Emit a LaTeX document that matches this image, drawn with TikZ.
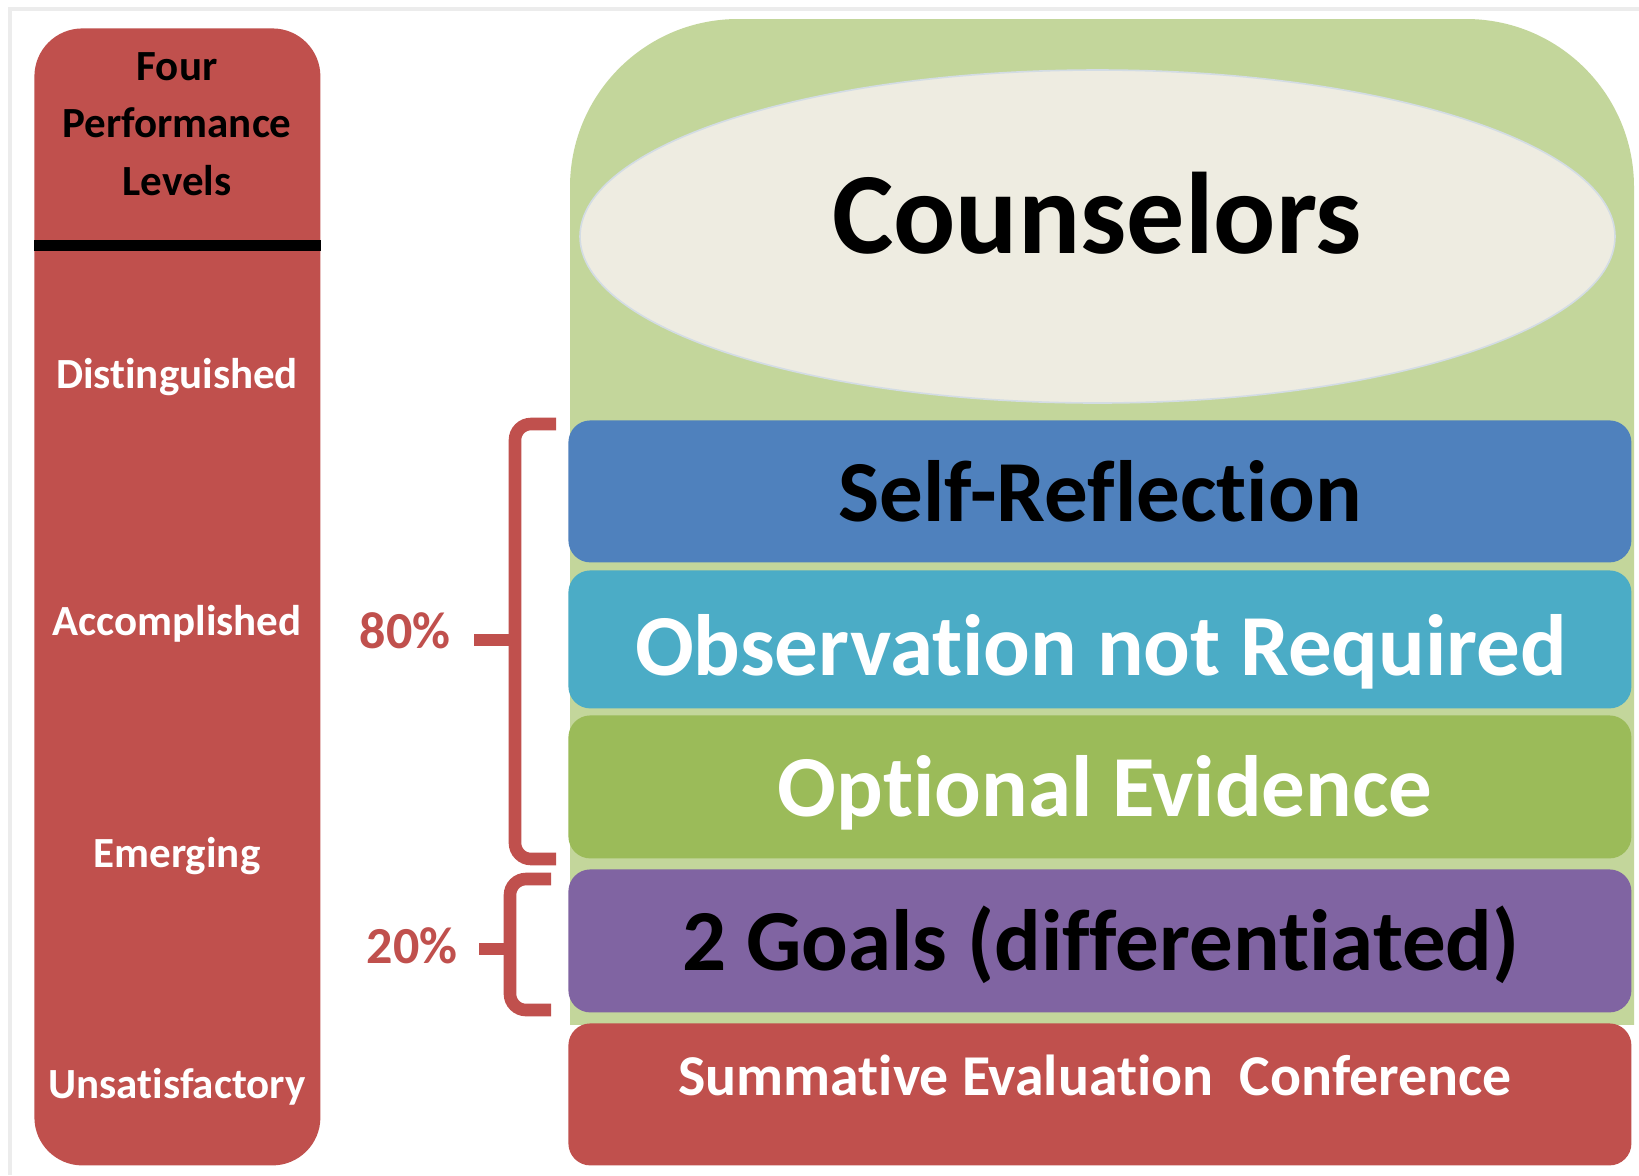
\documentclass[tikz,border=0pt]{standalone}
\usepackage{fontspec}
\setmainfont{Carlito}[Ligatures=NoCommon]
\usetikzlibrary{shapes.geometric}
\definecolor{cred}{HTML}{C0504D}
\definecolor{cgreenbg}{HTML}{C3D69B}
\definecolor{ccream}{HTML}{EEECE1}
\definecolor{cellline}{HTML}{D3DCE4}
\definecolor{cblue}{HTML}{4F81BD}
\definecolor{cteal}{HTML}{4BACC6}
\definecolor{cgreen}{HTML}{9BBB59}
\definecolor{cpurple}{HTML}{8064A2}
\definecolor{cframe}{HTML}{ECECEC}
\begin{document}
\begin{tikzpicture}[x=0.5pt,y=-0.5pt,
  bar/.style={rounded corners=11pt, minimum width=531.5pt, inner sep=0pt, anchor=north west},
  lvl/.style={anchor=base, text=white, font=\bfseries\fontsize{21.5}{25}\selectfont, inner sep=0pt},
  head/.style={anchor=base, text=black, font=\bfseries\fontsize{21.5}{25}\selectfont, inner sep=0pt},
  big/.style={anchor=base, font=\bfseries\fontsize{43.5}{50}\selectfont, inner sep=0pt},
  pct/.style={anchor=base, text=cred, font=\bfseries\fontsize{26}{30}\selectfont, inner sep=0pt},
  bracestyle/.style={draw=cred, line width=6.3pt, rounded corners=8pt}]
\useasboundingbox (0,0) rectangle (1639,1175);
\fill[white] (0,0) rectangle (1639,1175);
% frame
\draw[cframe, line width=2pt] (10,1175) -- (10,9) -- (1639,9);

% left column
\node[fill=cred, rounded corners=24pt, minimum width=143pt, minimum height=568.5pt, inner sep=0pt, anchor=north west] (lcol) at (34,28) {};
\draw[black, line width=5.5pt] (lcol.west |- 0,245) -- (lcol.east |- 0,245);
\node[head] (t1) at (177,80) {Four};
\node[head] (t2) at (177,137) {Performance};
\node[head] (t3) at (177,195) {Levels};
\node[lvl] (l1) at (177,388) {Distinguished};
\node[lvl] (l2) at (177,635) {Accomplished};
\node[lvl] (l3) at (177,867) {Emerging};
\node[lvl] (l4) at (177,1098) {Unsatisfactory};

% green container
\begin{scope}
\clip (0,0) rectangle (1639,1024);
\fill[cgreenbg, rounded corners=84pt] (570,19) rectangle (1634,1400);
\end{scope}

% ellipse
\node[ellipse, fill=ccream, draw=cellline, line width=0.8pt, minimum width=517.5pt, minimum height=166.5pt, inner sep=0pt] (ell) at (1097.5,236.5) {};
\node[anchor=base, font=\bfseries\fontsize{58}{66}\selectfont, inner sep=0pt] (couns) at (1097,253) {Counselors};

% bars
\node[bar, fill=cblue, minimum height=71pt] (b1) at (568,420) {};
\node[bar, fill=cteal, minimum height=69pt] (b2) at (568,570) {};
\node[bar, fill=cgreen, minimum height=71.5pt] (b3) at (568,715) {};
\node[bar, fill=cpurple, minimum height=71.5pt] (b4) at (568,869) {};
\node[bar, fill=cred, minimum height=71pt] (b5) at (568,1023) {};

\node[big, text=black] (tb1) at (1100,521) {Self-Reflection};
\node[big, text=white] (tb2) at (1101,675) {Observation not Required};
\node[big, text=white] (tb3) at (1105,816) {Optional Evidence};
\node[big, text=black] (tb4) at (1101,970) {2 Goals (differentiated)};
\node[anchor=base, text=white, font=\bfseries\fontsize{28.9}{34}\selectfont, inner sep=0pt] (tb5) at (1095,1095) {Summative Evaluation\ \ Conference};

% braces
\coordinate (b1top) at (556,424);
\coordinate (b1bot) at (556,859);
\coordinate (b1mid) at (515,640);
\coordinate (b1spur) at (474,640);
\draw[bracestyle] (b1top) -- (515,424) -- (515,859) -- (b1bot);
\draw[bracestyle, rounded corners=0pt] (b1spur) -- (b1mid);
\coordinate (b2top) at (551,879);
\coordinate (b2bot) at (551,1010);
\coordinate (b2mid) at (510,949);
\coordinate (b2spur) at (479,949);
\draw[bracestyle] (b2top) -- (510,879) -- (510,1010) -- (b2bot);
\draw[bracestyle, rounded corners=0pt] (b2spur) -- (b2mid);

\node[pct] (p80) at (405,648) {80\%};
\node[pct] (p20) at (412,963) {20\%};
\end{tikzpicture}
\end{document}
